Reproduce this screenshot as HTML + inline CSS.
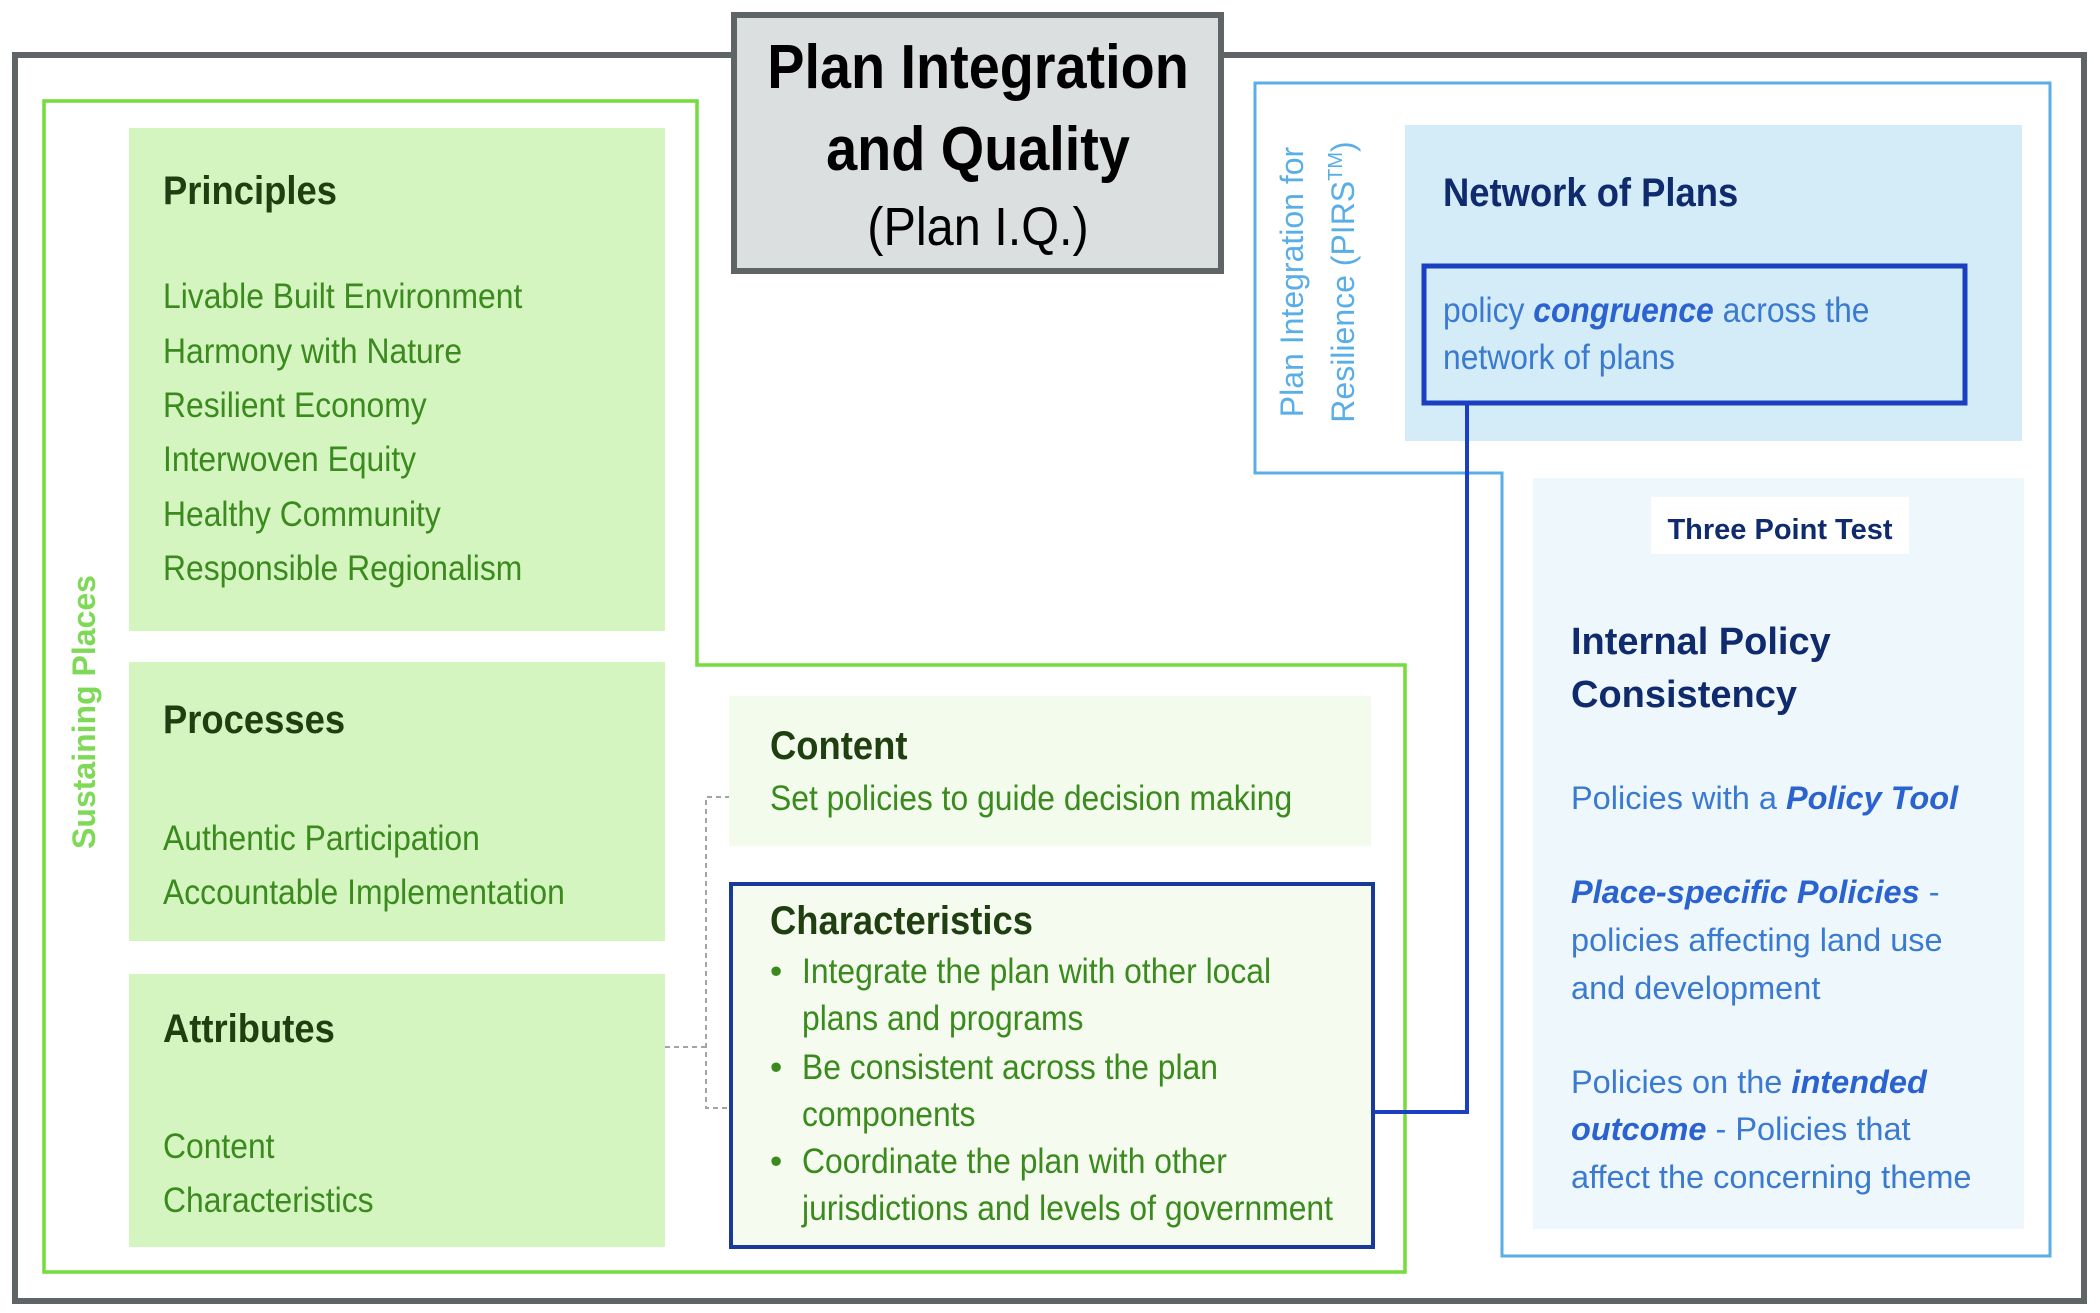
<!DOCTYPE html>
<html><head><meta charset="utf-8"><style>
html,body{margin:0;padding:0;background:#fff;}
svg{display:block}
.n{font-family:"Liberation Sans",sans-serif;}
.a{font-family:"Liberation Sans",sans-serif;}
</style></head><body>
<svg width="2100" height="1313" viewBox="0 0 2100 1313" xmlns="http://www.w3.org/2000/svg">
<rect width="2100" height="1313" fill="#fff"/>
<rect x="15" y="55" width="2069" height="1246" fill="none" stroke="#5f6566" stroke-width="6"/>
<polygon points="44,101 697,101 697,665 1405,665 1405,1272 44,1272" fill="none" stroke="#74dc3c" stroke-width="3.5"/>
<text class="a" transform="translate(95,712) rotate(-90)" text-anchor="middle" font-size="32" font-weight="bold" fill="#7ed957">Sustaining Places</text>
<!-- Principles -->
<rect x="129" y="128" width="536" height="503" fill="#d5f5c0"/>
<text class="n" transform="translate(163,204) scale(0.91,1)" font-size="40" font-weight="bold" fill="#1f3f10">Principles</text>
<g class="n" font-size="35" fill="#3a8a1e">
<text transform="translate(163,308) scale(0.91,1)">Livable Built Environment</text>
<text transform="translate(163,363) scale(0.91,1)">Harmony with Nature</text>
<text transform="translate(163,417) scale(0.91,1)">Resilient Economy</text>
<text transform="translate(163,471) scale(0.91,1)">Interwoven Equity</text>
<text transform="translate(163,526) scale(0.91,1)">Healthy Community</text>
<text transform="translate(163,580) scale(0.91,1)">Responsible Regionalism</text>
</g>
<!-- Processes -->
<rect x="129" y="662" width="536" height="279" fill="#d5f5c0"/>
<text class="n" transform="translate(163,733) scale(0.91,1)" font-size="40" font-weight="bold" fill="#1f3f10">Processes</text>
<g class="n" font-size="35" fill="#3a8a1e">
<text transform="translate(163,850) scale(0.91,1)">Authentic Participation</text>
<text transform="translate(163,904) scale(0.91,1)">Accountable Implementation</text>
</g>
<!-- Attributes -->
<rect x="129" y="974" width="536" height="273" fill="#d5f5c0"/>
<text class="n" transform="translate(163,1042) scale(0.91,1)" font-size="40" font-weight="bold" fill="#1f3f10">Attributes</text>
<g class="n" font-size="35" fill="#3a8a1e">
<text transform="translate(163,1158) scale(0.91,1)">Content</text>
<text transform="translate(163,1212) scale(0.91,1)">Characteristics</text>
</g>
<polyline points="730,797 706,797 706,1108 730,1108" fill="none" stroke="#a0a6a8" stroke-width="2" stroke-dasharray="5,4"/>
<line x1="665" y1="1047" x2="706" y2="1047" stroke="#a0a6a8" stroke-width="2" stroke-dasharray="5,4"/>
<!-- Content -->
<rect x="729" y="696" width="642" height="150" fill="#f2fbec"/>
<text class="n" transform="translate(770,759) scale(0.91,1)" font-size="40" font-weight="bold" fill="#1f3f10">Content</text>
<text class="n" transform="translate(770,810) scale(0.91,1)" font-size="35" fill="#3a8a1e">Set policies to guide decision making</text>
<!-- Characteristics -->
<rect x="731" y="884" width="642" height="363" fill="#f5fcef" stroke="#1a3a9a" stroke-width="4"/>
<text class="n" transform="translate(770,934) scale(0.91,1)" font-size="40" font-weight="bold" fill="#1f3f10">Characteristics</text>
<g class="n" font-size="35" fill="#3a8a1e">
<text x="770" y="983">•</text><text transform="translate(802,983) scale(0.91,1)">Integrate the plan with other local</text>
<text transform="translate(802,1030) scale(0.91,1)">plans and programs</text>
<text x="770" y="1079">•</text><text transform="translate(802,1079) scale(0.91,1)">Be consistent across the plan</text>
<text transform="translate(802,1126) scale(0.91,1)">components</text>
<text x="770" y="1173">•</text><text transform="translate(802,1173) scale(0.91,1)">Coordinate the plan with other</text>
<text transform="translate(802,1220) scale(0.91,1)">jurisdictions and levels of government</text>
</g>
<!-- PIRS outline -->
<polygon points="1255,83 2050,83 2050,1256 1502,1256 1502,473 1255,473" fill="none" stroke="#5aaee8" stroke-width="3"/>
<g class="a" font-size="32" fill="#5aaee8">
<text transform="translate(1303,282) rotate(-90)" text-anchor="middle">Plan Integration for</text>
<text transform="translate(1354,282) rotate(-90)" text-anchor="middle">Resilience  (PIRS<tspan font-size="20" dy="-12">TM</tspan><tspan dy="12">)</tspan></text>
</g>
<!-- Network of Plans -->
<rect x="1405" y="125" width="617" height="316" fill="#d4ecf8"/>
<text class="n" transform="translate(1443,206) scale(0.91,1)" font-size="40" font-weight="bold" fill="#102a6e">Network of Plans</text>
<rect x="1424" y="266" width="541" height="137" fill="none" stroke="#1a3fc0" stroke-width="5"/>
<g class="n" font-size="35" fill="#3a7ad0">
<text transform="translate(1443,322) scale(0.91,1)">policy <tspan font-weight="bold" font-style="italic" fill="#2a62d0">congruence</tspan> across the</text>
<text transform="translate(1443,369) scale(0.91,1)">network of plans</text>
</g>
<polyline points="1467,403 1467,1112 1374,1112" fill="none" stroke="#1a3fc0" stroke-width="4"/>
<!-- Three point test panel -->
<rect x="1533" y="478" width="491" height="751" fill="#eef7fc"/>
<rect x="1651" y="497" width="258" height="57" fill="#fff"/>
<text class="a" x="1780" y="539" text-anchor="middle" font-size="29" font-weight="bold" fill="#102a6e">Three Point Test</text>
<g class="a" font-size="38" font-weight="bold" fill="#102a6e">
<text x="1571" y="654">Internal Policy</text>
<text x="1571" y="707">Consistency</text>
</g>
<g class="a" font-size="32.5" fill="#3a7ad0">
<text x="1571" y="809">Policies with a <tspan font-weight="bold" font-style="italic" fill="#2a62d0">Policy Tool</tspan></text>
<text x="1571" y="903"><tspan font-weight="bold" font-style="italic" fill="#2a62d0">Place-specific Policies</tspan> -</text>
<text x="1571" y="951">policies affecting land use</text>
<text x="1571" y="999">and development</text>
<text x="1571" y="1093">Policies on the <tspan font-weight="bold" font-style="italic" fill="#2a62d0">intended</tspan></text>
<text x="1571" y="1140"><tspan font-weight="bold" font-style="italic" fill="#2a62d0">outcome</tspan> - Policies that</text>
<text x="1571" y="1188">affect the concerning theme</text>
</g>
<!-- title box -->
<rect x="734" y="15" width="487" height="256" fill="#dcdfe0" stroke="#5f6566" stroke-width="6"/>
<g class="n" text-anchor="middle" fill="#000">
<text transform="translate(978,88) scale(0.9,1)" font-size="62" font-weight="bold">Plan Integration</text>
<text transform="translate(978,170) scale(0.9,1)" font-size="62" font-weight="bold">and Quality</text>
<text transform="translate(978,245) scale(0.9,1)" font-size="54">(Plan I.Q.)</text>
</g>
</svg>
</body></html>
